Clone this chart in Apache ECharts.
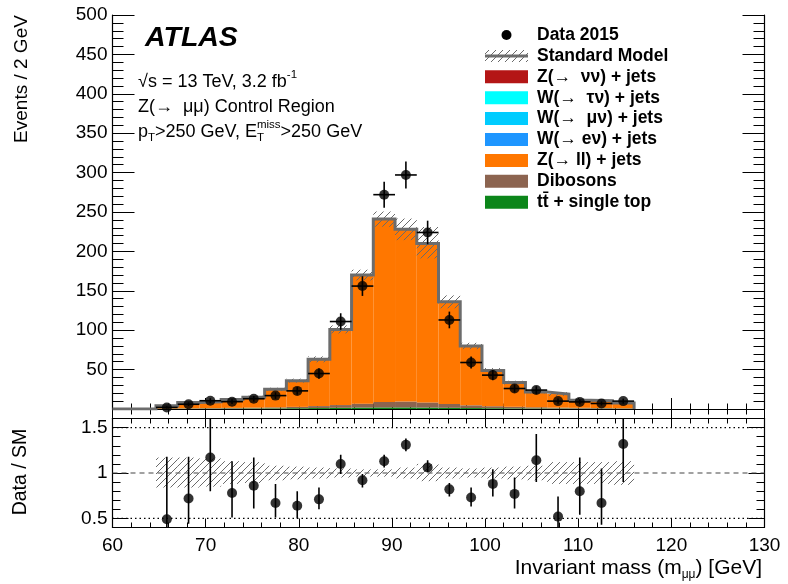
<!DOCTYPE html>
<html>
<head>
<meta charset="utf-8">
<script src="https://cdn.jsdelivr.net/npm/echarts@6/dist/echarts.min.js"></script>
<style>
  html, body { margin: 0; padding: 0; background: #fff; }
  #chart { width: 788px; height: 584px; }
</style>
</head>
<body>
<div id="chart"></div>
<script>
// Bin edges of the invariant-mass histogram (GeV), 24 bins
const binEdges = [60, 62.333, 64.667, 67, 69.333, 71.667, 74, 76.333, 78.667, 81, 83.333,
  85.667, 88, 90.333, 92.667, 95, 97.333, 99.667, 102, 104.333, 106.667, 109, 111.333, 113.667, 116];

// Background components, stacked bottom to top (events per bin)
const ttbar    = [0, 0, 0.3, 0.4, 0.5, 0.6, 0.7, 0.8, 1.0, 1.2, 1.5, 1.8, 2.0, 2.0, 1.8, 1.5, 1.2, 1.0, 0.8, 0.7, 0.6, 0.5, 0.5, 0.4];
const dibosons = [0, 0, 0.3, 0.5, 0.6, 0.8, 1.0, 1.3, 1.7, 2.5, 3.5, 5.0, 7.0, 7.5, 6.5, 5.0, 3.5, 2.5, 2.0, 1.5, 1.2, 1.0, 0.8, 0.6];
const zll      = [0, 0, 3.4, 7.3, 7.9, 10.6, 13.3, 22.9, 33.3, 59.3, 96, 163.2, 232, 218.5, 201.7, 129.5, 75.3, 45.5, 30.7, 19.3, 17.2, 9.5, 9.2, 6.7];
const wenu     = [0, 0, 0, 0, 0, 0, 0, 0, 0, 0, 0, 0, 0, 0, 0, 0, 0, 0, 0, 0, 0, 0, 0, 0];
const wmunu    = [0, 0, 0, 0, 0, 0, 0, 0, 0, 0, 0, 0, 0, 0, 0, 0, 0, 0, 0, 0, 0, 0, 0, 0];
const wtaunu   = [0, 0, 0, 0, 0, 0, 0, 0, 0, 0, 0, 0, 0, 0, 0, 0, 0, 0, 0, 0, 0, 0, 0, 0];
const znunu    = [0, 0, 0, 0, 0, 0, 0, 0, 0, 0, 0, 0, 0, 0, 0, 0, 0, 0, 0, 0, 0, 0, 0, 0];

// Observed events and their uncertainties
const dataCounts = [null, null, 2, 6, 10.5, 9.3, 13, 17, 23, 45, 111, 156, 272, 297, 224, 113, 59, 43, 26, 24, 10, 9, 7, 10];
const dataErr    = [null, null, 1.4, 2.4, 3.2, 3.0, 3.6, 4.1, 4.8, 6.7, 10.5, 12.5, 16.5, 17.2, 15, 10.6, 7.7, 6.6, 5.1, 4.9, 3.2, 3.0, 2.6, 3.2];

// Data / SM ratio with its error bar ends
const ratio      = [null, null, 0.49, 0.72, 1.17, 0.78, 0.86, 0.67, 0.64, 0.71, 1.10, 0.92, 1.13, 1.31, 1.06, 0.82, 0.73, 0.88, 0.77, 1.14, 0.52, 0.80, 0.67, 1.32];
const ratioErrHi = [null, null, 1.18, 1.18, 1.75, 1.13, 1.17, 0.88, 0.80, 0.84, 1.20, 0.99, 1.20, 1.38, 1.14, 0.89, 0.84, 1.04, 0.95, 1.43, 0.74, 1.17, 1.05, 1.75];
const ratioErrLo = [null, null, 0.30, 0.44, 0.80, 0.51, 0.61, 0.51, 0.50, 0.60, 0.99, 0.84, 1.06, 1.24, 1.01, 0.74, 0.63, 0.74, 0.61, 0.90, 0.30, 0.54, 0.43, 0.90];

// Relative SM uncertainty band
const bandHi = [null, null, 1.17, 1.17, 1.16, 1.13, 1.12, 1.08, 1.07, 1.06, 1.05, 1.04, 1.04, 1.06, 1.10, 1.06, 1.05, 1.06, 1.07, 1.08, 1.12, 1.12, 1.12, 1.13];
const bandLo = [null, null, 0.84, 0.84, 0.85, 0.88, 0.89, 0.92, 0.93, 0.94, 0.95, 0.96, 0.96, 0.94, 0.91, 0.94, 0.95, 0.94, 0.93, 0.92, 0.88, 0.88, 0.88, 0.87];

const xTicks = [60, 70, 80, 90, 100, 110, 120, 130];
const ratioTicks = [0.5, 1, 1.5];

const legendNames = ['Data 2015', 'Standard Model', 'Z(\u2192  \u03bd\u03bd) + jets', 'W(\u2192  \u03c4\u03bd) + jets',
  'W(\u2192  \u03bc\u03bd) + jets', 'W(\u2192 e\u03bd) + jets', 'Z(\u2192 ll) + jets', 'Dibosons', 'tt\u0304 + single top'];

const COL = {
  znunu: '#b41616', wtaunu: '#00ffff', wmunu: '#00ccff', wenu: '#1e96ff',
  zll: '#ff7700', dibosons: '#8c6450', ttbar: '#0c861a', outline: '#6c6c6c'
};
const FONT = '"Liberation Sans", Arial, Helvetica, sans-serif';

// Diagonal hatch tile for the uncertainty bands
const hatchCanvas = document.createElement('canvas');
hatchCanvas.width = 7; hatchCanvas.height = 7;
(function () {
  const c = hatchCanvas.getContext('2d');
  c.strokeStyle = '#6a6a6a'; c.lineWidth = 1;
  c.beginPath();
  c.moveTo(-1, 8); c.lineTo(8, -1);
  c.moveTo(-1, 1); c.lineTo(1, -1);
  c.moveTo(6, 8); c.lineTo(8, 6);
  c.stroke();
})();
const hatch = { image: hatchCanvas, repeat: 'repeat' };

// Stack the components
const stackOrder = [
  ['ttbar', ttbar], ['dibosons', dibosons], ['zll', zll],
  ['wenu', wenu], ['wmunu', wmunu], ['wtaunu', wtaunu], ['znunu', znunu]
];
const nBins = binEdges.length - 1;
let cum = new Array(nBins).fill(0);
const stackSeries = stackOrder.map(([key, arr]) => {
  const items = [];
  for (let i = 0; i < nBins; i++) {
    items.push([binEdges[i], binEdges[i + 1], cum[i], cum[i] + arr[i]]);
  }
  cum = cum.map((c, i) => c + arr[i]);
  return {
    type: 'custom', name: key, xAxisIndex: 0, yAxisIndex: 0, z: 2,
    encode: { x: [0, 1], y: [2, 3] },
    data: items,
    renderItem: (params, api) => {
      const p0 = api.coord([api.value(0), api.value(2)]);
      const p1 = api.coord([api.value(1), api.value(3)]);
      return { type: 'rect', shape: { x: p0[0], y: p1[1], width: p1[0] - p0[0], height: p0[1] - p1[1] },
        style: { fill: COL[key] } };
    }
  };
});
const smTotal = cum;

// Step outline of the SM total
const outline = [[binEdges[0], 0]];
for (let i = 0; i < nBins; i++) outline.push([binEdges[i], smTotal[i]], [binEdges[i + 1], smTotal[i]]);
outline.push([binEdges[nBins], 0]);

const bandMain = [], bandRatio = [], dataPts = [], dataBars = [], ratioPts = [], ratioBars = [];
for (let i = 0; i < nBins; i++) {
  const c = (binEdges[i] + binEdges[i + 1]) / 2;
  if (bandHi[i] != null) {
    bandMain.push([binEdges[i], binEdges[i + 1], smTotal[i] * bandLo[i], smTotal[i] * bandHi[i]]);
    bandRatio.push([binEdges[i], binEdges[i + 1], bandLo[i], bandHi[i]]);
  }
  if (dataCounts[i] != null) {
    dataPts.push([c, dataCounts[i]]);
    dataBars.push([c, dataCounts[i], dataErr[i], binEdges[i], binEdges[i + 1]]);
  }
  if (ratio[i] != null) {
    ratioPts.push([c, ratio[i]]);
    ratioBars.push([c, ratio[i], ratioErrLo[i], ratioErrHi[i]]);
  }
}

function bandRender(params, api) {
  const p0 = api.coord([api.value(0), api.value(2)]);
  const p1 = api.coord([api.value(1), api.value(3)]);
  return { type: 'rect', shape: { x: p0[0], y: p1[1], width: p1[0] - p0[0], height: p0[1] - p1[1] },
    style: { fill: hatch } };
}

// Text runs with sub/superscripts
const mctx = document.createElement('canvas').getContext('2d');
function fontStr(p) { return (p.italic ? 'italic ' : '') + (p.bold ? 'bold ' : '') + p.size + 'px ' + FONT; }
function textRun(x, y, parts, align) {
  const widths = parts.map(p => { mctx.font = fontStr(p); return mctx.measureText(p.s).width; });
  let total = 0, pend = 0;
  parts.forEach((p, i) => {
    if (p.stack) { pend = Math.max(pend, widths[i]); }
    else { total += Math.max(widths[i], pend); pend = 0; }
  });
  let cx = align === 'right' ? x - total : x;
  pend = 0;
  return parts.map((p, i) => {
    const el = { type: 'text', silent: true, z: 100,
      style: { text: p.s, x: cx, y: y + (p.dy || 0), font: fontStr(p), fill: '#000',
        align: 'left', verticalAlign: 'middle' } };
    if (p.stack) pend = Math.max(pend, widths[i]);
    else { cx += Math.max(widths[i], pend); pend = 0; }
    return el;
  });
}

const graphics = [];
// Experiment label and selection text
graphics.push(...textRun(145, 38, [{ s: 'ATLAS', size: 28.5, bold: true, italic: true }]));
graphics.push(...textRun(138, 82, [{ s: '\u221as = 13 TeV, 3.2 fb', size: 18 }, { s: '-1', size: 11.5, dy: -7 }]));
graphics.push(...textRun(138, 107, [{ s: 'Z(\u2192  \u03bc\u03bc) Control Region', size: 18 }]));
graphics.push(...textRun(138, 132, [
  { s: 'p', size: 18 }, { s: 'T', size: 11.5, dy: 6 }, { s: '>250 GeV, E', size: 18 },
  { s: 'miss', size: 11.5, dy: -7, stack: true }, { s: 'T', size: 11.5, dy: 6 }, { s: '>250 GeV', size: 18 }]));
// Axis titles
graphics.push({ type: 'text', silent: true, x: 22, y: 79, rotation: Math.PI / 2,
  style: { text: 'Events / 2 GeV', font: '19px ' + FONT, fill: '#000', align: 'center', verticalAlign: 'middle' } });
graphics.push({ type: 'text', silent: true, x: 21, y: 472, rotation: Math.PI / 2,
  style: { text: 'Data / SM', font: '19.5px ' + FONT, fill: '#000', align: 'center', verticalAlign: 'middle' } });
graphics.push(...textRun(762, 568, [
  { s: 'Invariant mass (m', size: 21 }, { s: '\u03bc\u03bc', size: 12, dy: 7 }, { s: ') [GeV]', size: 21 }], 'right'));

// Legend
const legX = 485, legW = 43, legTextX = 537, legY0 = 35, legStep = 20.9;
const legKeys = [null, null, 'znunu', 'wtaunu', 'wmunu', 'wenu', 'zll', 'dibosons', 'ttbar'];
legendNames.forEach((name, i) => {
  const cy = legY0 + i * legStep;
  if (i === 0) {
    graphics.push({ type: 'circle', silent: true, shape: { cx: legX + legW / 2, cy: cy, r: 5 }, style: { fill: '#000' } });
  } else if (i === 1) {
    graphics.push({ type: 'rect', silent: true, shape: { x: legX, y: cy - 6, width: legW, height: 12 }, style: { fill: hatch } });
    graphics.push({ type: 'line', silent: true, shape: { x1: legX, y1: cy, x2: legX + legW, y2: cy },
      style: { stroke: COL.outline, lineWidth: 3 } });
  } else {
    graphics.push({ type: 'rect', silent: true, shape: { x: legX, y: cy - 6.5, width: legW, height: 13 },
      style: { fill: COL[legKeys[i]] } });
  }
  graphics.push(...textRun(legTextX, cy, [{ s: name, size: 17.5, bold: true }]));
});

// Axes
const axisLine = { show: true, lineStyle: { color: '#000', width: 1.2 } };
const noSplit = { show: false };
function xAx(grid, pos, labels, majLen, minLen) {
  return {
    type: 'value', gridIndex: grid, position: pos, min: 60, max: 130, interval: 10,
    axisLine: axisLine, splitLine: noSplit,
    axisTick: { show: true, inside: true, length: majLen, lineStyle: { color: '#000', width: 1 } },
    minorTick: { show: true, splitNumber: 5, length: minLen, lineStyle: { color: '#000', width: 1 } },
    axisLabel: labels ? { show: true, fontSize: 19, color: '#000', fontFamily: FONT, margin: 9,
      formatter: v => (xTicks.indexOf(v) >= 0 ? String(v) : '') } : { show: false }
  };
}
function yMain(pos, labels) {
  return {
    type: 'value', gridIndex: 0, position: pos, min: 0, max: 500, interval: 50,
    axisLine: axisLine, splitLine: noSplit,
    axisTick: { show: true, inside: true, length: 22, lineStyle: { color: '#000', width: 1 } },
    minorTick: { show: true, splitNumber: 5, length: 11, lineStyle: { color: '#000', width: 1 } },
    axisLabel: labels ? { show: true, fontSize: 19, color: '#000', fontFamily: FONT, margin: 5,
      formatter: v => (v === 0 ? '' : String(v)) } : { show: false }
  };
}
function yRatioMajor(pos, labels) {
  return {
    type: 'value', gridIndex: 1, position: pos, min: 0.4, max: 1.6,
    axisLine: axisLine, splitLine: noSplit,
    axisTick: { show: true, inside: true, length: 16, customValues: ratioTicks, lineStyle: { color: '#000', width: 1 } },
    axisLabel: labels ? { show: true, fontSize: 19, color: '#000', fontFamily: FONT, margin: 5,
      customValues: ratioTicks, formatter: v => String(+v.toFixed(1)) } : { show: false }
  };
}
function yRatioMinor(pos) {
  return {
    type: 'value', gridIndex: 1, position: pos, min: 0.4, max: 1.6, interval: 0.1,
    axisLine: { show: false }, splitLine: noSplit,
    axisTick: { show: true, inside: true, length: 8, lineStyle: { color: '#000', width: 1 } },
    axisLabel: { show: false }
  };
}

const option = {
  animation: false,
  backgroundColor: '#fff',
  grid: [
    { left: 112.5, top: 15, width: 652, height: 394 },
    { left: 112.5, top: 418.5, width: 652, height: 109 }
  ],
  xAxis: [xAx(0, 'bottom', false, 11, 5.5), xAx(0, 'top', false, 11, 5.5),
          xAx(1, 'bottom', true, 9, 5), xAx(1, 'top', false, 9, 5)],
  yAxis: [yMain('left', true), yMain('right', false),
          yRatioMajor('left', true), yRatioMinor('left'), yRatioMajor('right', false), yRatioMinor('right')],
  graphic: graphics,
  series: [
    ...stackSeries,
    { type: 'custom', name: 'sm-band', xAxisIndex: 0, yAxisIndex: 0, z: 3,
      encode: { x: [0, 1], y: [2, 3] }, data: bandMain, renderItem: bandRender },
    { type: 'line', name: 'Standard Model', xAxisIndex: 0, yAxisIndex: 0, z: 4, data: outline,
      showSymbol: false, symbol: 'none', silent: true,
      lineStyle: { color: COL.outline, width: 3, join: 'miter', cap: 'butt' } },
    { type: 'custom', name: 'data-err', xAxisIndex: 0, yAxisIndex: 0, z: 5,
      encode: { x: [0, 3, 4], y: [1] }, data: dataBars,
      renderItem: (params, api) => {
        const x = api.value(0), y = api.value(1), e = api.value(2);
        const top = api.coord([x, y + e]), bot = api.coord([x, y - e]);
        const l = api.coord([api.value(3), y]), r = api.coord([api.value(4), y]);
        const st = { stroke: '#000', lineWidth: 1.6 };
        return { type: 'group', children: [
          { type: 'line', shape: { x1: top[0], y1: top[1], x2: bot[0], y2: bot[1] }, style: st },
          { type: 'line', shape: { x1: l[0], y1: l[1], x2: r[0], y2: r[1] }, style: st }
        ] };
      } },
    { type: 'scatter', name: 'Data 2015', xAxisIndex: 0, yAxisIndex: 0, z: 6, data: dataPts,
      symbol: 'circle', symbolSize: 10, itemStyle: { color: '#000' }, silent: true },

    // Ratio panel
    { type: 'line', xAxisIndex: 2, yAxisIndex: 2, z: 2, data: [[60, 1], [130, 1]], symbol: 'none', silent: true,
      lineStyle: { color: '#444', width: 1.2, type: [5, 4] } },
    { type: 'line', xAxisIndex: 2, yAxisIndex: 2, z: 2, data: [[60, 0.5], [130, 0.5]], symbol: 'none', silent: true,
      lineStyle: { color: '#000', width: 1.2, type: [1.5, 3] } },
    { type: 'line', xAxisIndex: 2, yAxisIndex: 2, z: 2, data: [[60, 1.5], [130, 1.5]], symbol: 'none', silent: true,
      lineStyle: { color: '#000', width: 1.2, type: [1.5, 3] } },
    { type: 'custom', name: 'ratio-band', xAxisIndex: 2, yAxisIndex: 2, z: 3,
      encode: { x: [0, 1], y: [2, 3] }, data: bandRatio, renderItem: bandRender },
    { type: 'custom', name: 'ratio-err', xAxisIndex: 2, yAxisIndex: 2, z: 5, clip: true,
      encode: { x: [0], y: [1, 2, 3] }, data: ratioBars,
      renderItem: (params, api) => {
        const x = api.value(0);
        const top = api.coord([x, api.value(3)]), bot = api.coord([x, api.value(2)]);
        return { type: 'line', shape: { x1: top[0], y1: top[1], x2: bot[0], y2: bot[1] },
          style: { stroke: '#000', lineWidth: 1.6 } };
      } },
    { type: 'scatter', xAxisIndex: 2, yAxisIndex: 2, z: 6, data: ratioPts,
      symbol: 'circle', symbolSize: 10, itemStyle: { color: '#000' }, silent: true }
  ]
};

const chart = echarts.init(document.getElementById('chart'), null, { renderer: 'canvas' });
chart.setOption(option);
</script>
</body>
</html>
